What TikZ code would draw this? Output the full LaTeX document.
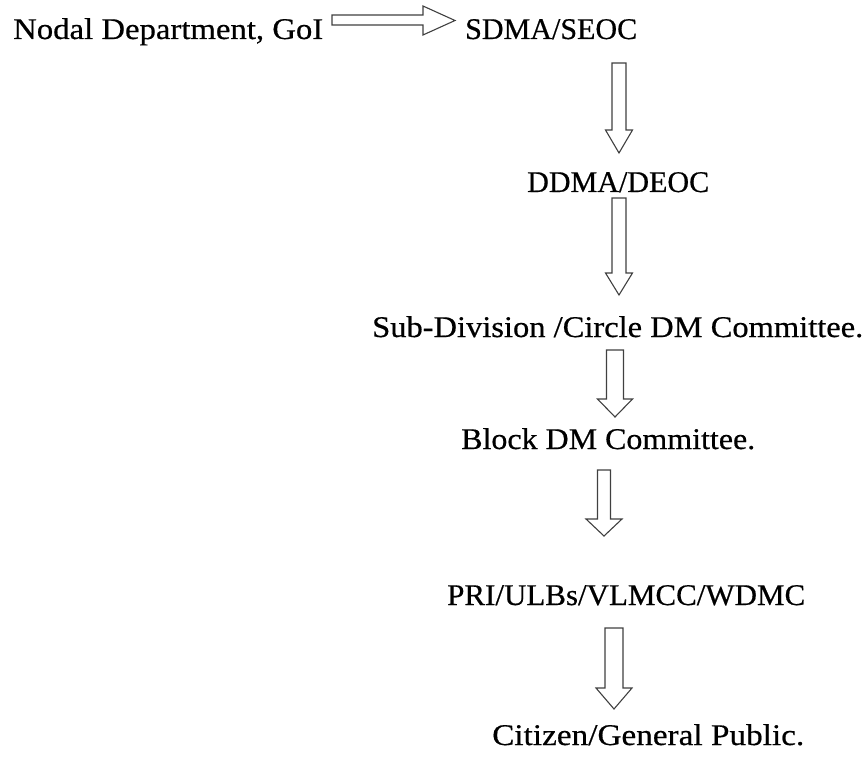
\documentclass[tikz,border=0pt]{standalone}
\usepackage{fontspec}
\usepackage{graphicx}
\setmainfont{Liberation Serif}[FakeBold=0.5]
\newcommand\fitw[2]{\resizebox{#1pt}{\height}{#2}}
\newcommand\myblockdown[6]{%
  \draw[blockarrow] (#1-#5,#2) -- (#1+#5,#2) -- (#1+#5,#3) -- (#1+#6,#3) -- (#1,#4)
    -- (#1-#6,#3) -- (#1-#5,#3) -- cycle;}
\begin{document}
\begin{tikzpicture}[x=1pt,y=-1pt,
  lbl/.style={anchor=base west,inner sep=0pt,font=\fontsize{30}{36}\selectfont},
  blockarrow/.style={draw=black!75,line width=1.1pt,line join=miter,fill=white}]
\useasboundingbox (0,0) rectangle (865,757);
% labels
\node[lbl] (nodal) at (13,39) {\fitw{310}{Nodal Department, GoI}};
\node[lbl] (sdma) at (465,39) {\fitw{172}{SDMA/SEOC}};
\node[lbl] (ddma) at (527,192) {\fitw{182}{DDMA/DEOC}};
\node[lbl] (sub) at (372,337) {\fitw{491}{Sub-Division /Circle DM Committee.}};
\node[lbl] (block) at (461,449) {\fitw{294}{Block DM Committee.}};
\node[lbl] (pri) at (447,605) {\fitw{358}{PRI/ULBs/VLMCC/WDMC}};
\node[lbl] (cit) at (492,745) {\fitw{312}{Citizen/General Public.}};
% horizontal block arrow
\draw[blockarrow] (332,15) -- (423,15) -- (423,6) -- (455,20.5) -- (423,35) -- (423,25) -- (332,25) -- cycle;
% vertical block arrows: cx, top, base, tip, shaft half, head half
\myblockdown{619}{63}{130}{153}{7}{13.5}
\myblockdown{619}{198}{273}{295}{7}{13.5}
\myblockdown{615}{350}{399}{417}{8.5}{17.5}
\myblockdown{604}{470}{519}{536}{6.5}{18}
\myblockdown{614}{628}{688}{709}{9}{18}
\end{tikzpicture}
\end{document}
